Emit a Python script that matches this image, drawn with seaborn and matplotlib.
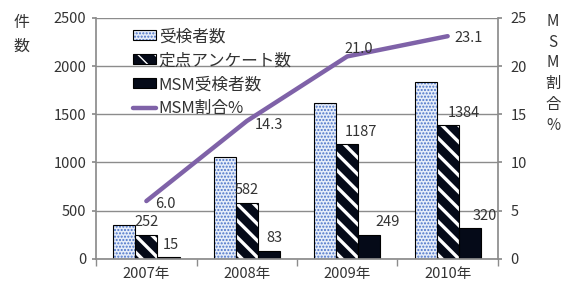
#!/usr/bin/env python3
import matplotlib
matplotlib.use("Agg")
import matplotlib.pyplot as plt
import matplotlib.patches as mpatches
import matplotlib.lines as mlines
from matplotlib.colors import to_rgba
import seaborn as sns
import numpy as np
import pandas as pd

years = ["2007年", "2008年", "2009年", "2010年"]
series = ["受検者数", "定点アンケート数", "MSM受検者数"]
tested = [355, 1060, 1620, 1830]
survey = [252, 582, 1187, 1384]
msm_tested = [15, 83, 249, 320]
msm_rate = [6.0, 14.3, 21.0, 23.1]
rate_name = "MSM割合%"

sns.set_theme(style="white")
plt.rcParams["font.family"] = ["Noto Sans CJK JP", "DejaVu Sans"]
plt.rcParams["font.size"] = 10
plt.rcParams["text.color"] = "#333333"
plt.rcParams["xtick.color"] = "#333333"
plt.rcParams["ytick.color"] = "#333333"

df = pd.DataFrame({
    "year": years * 3,
    "series": [s for s in series for _ in years],
    "count": tested + survey + msm_tested,
})

grey = "#8c8c8c"
dot_face, dot_col = "#e6edf9", "#4a72c8"
dark = "#050a18"
purple = "#7f62a8"

fig = plt.figure(figsize=(5.69, 2.88), dpi=100)
ax = fig.add_axes([0.169, 0.101, 0.706, 0.837])
sns.barplot(df, x="year", y="count", hue="series", ax=ax, width=0.66,
            palette=[dot_face, dark, dark], legend=False, saturation=1)


def style(p, hatch, hcol, face):
    p.set_facecolor(face)
    p.set_edgecolor("black")
    p.set_linewidth(0.8)
    p.set_hatch(hatch)
    p._hatch_color = to_rgba(hcol)
    if hasattr(p, "set_hatch_linewidth"):
        p.set_hatch_linewidth(2.4 if hatch.startswith("\\") else 1.0)


styles = [(".....", dot_col, dot_face), ("\\\\", "white", dark), ("", dark, dark)]
for cont, st in zip(ax.containers, styles):
    for p in cont:
        style(p, *st)

# data labels for survey and msm bars
for cont, vals, dx in [(ax.containers[1], survey, [0, 0, 10, 12]),
                       (ax.containers[2], msm_tested, [2, 4, 13, 11])]:
    for p, v, d in zip(cont, vals, dx):
        ax.annotate(str(v), (p.get_x() + p.get_width() / 2, p.get_height()),
                    xytext=(d, 4), textcoords="offset points",
                    ha="center", va="bottom", fontsize=10.5)

ax.set_ylim(0, 2500)
ax.set_yticks(range(0, 2501, 500))
ax.set_xlim(-0.5, 3.5)
ax.set_xticks(np.arange(-0.5, 4, 1), minor=True)
ax.set_xlabel("")
ax.set_ylabel("")
ax.yaxis.grid(True, color=grey, linewidth=1)
ax.set_axisbelow(True)
for s in ["left", "bottom"]:
    ax.spines[s].set_color(grey)
ax.spines["top"].set_visible(False)
ax.spines["right"].set_visible(False)
ax.tick_params(axis="x", which="major", length=0, pad=6, labelsize=10.5)
ax.tick_params(axis="x", which="minor", length=5, color=grey, direction="out", bottom=True)
ax.tick_params(axis="y", length=3, color=grey, left=True, labelsize=10.5, pad=4)

ax2 = ax.twinx()
sns.lineplot(x=np.arange(len(years)), y=msm_rate, ax=ax2, color=purple, linewidth=3.2)
ax2.set_ylim(0, 25)
ax2.set_yticks(range(0, 26, 5))
ax2.set_xlim(-0.5, 3.5)
for s in ["left", "top", "bottom"]:
    ax2.spines[s].set_visible(False)
ax2.spines["right"].set_color(grey)
ax2.tick_params(axis="y", length=3, color=grey, right=True, labelsize=10.5, pad=6)
for i, (v, off) in enumerate(zip(msm_rate, [(14, -2), (16, -3), (8, 5), (15, -1)])):
    ax2.annotate(f"{v:.1f}", (i, v), xytext=off, textcoords="offset points",
                 ha="center", va="center", fontsize=10.5)

fig.text(0.037, 0.88, "件\n数", ha="center", va="center", fontsize=11.5, linespacing=1.5)
fig.text(0.972, 0.745, "M\nS\nM\n割\n合\n%", ha="center", va="center", fontsize=11, linespacing=1.3)

handles = []
for st in styles:
    h = mpatches.Patch(label="x")
    style(h, *st)
    handles.append(h)
handles.append(mlines.Line2D([], [], color=purple, linewidth=3.2))
leg = ax.legend(handles, series + [rate_name], loc="upper left", bbox_to_anchor=(0.075, 0.985),
                frameon=False, fontsize=12, handlelength=1.4, handleheight=0.55,
                handletextpad=0.15, labelspacing=0.42, borderaxespad=0)
leg.set_zorder(5)

fig.savefig("out.png", dpi=100)
